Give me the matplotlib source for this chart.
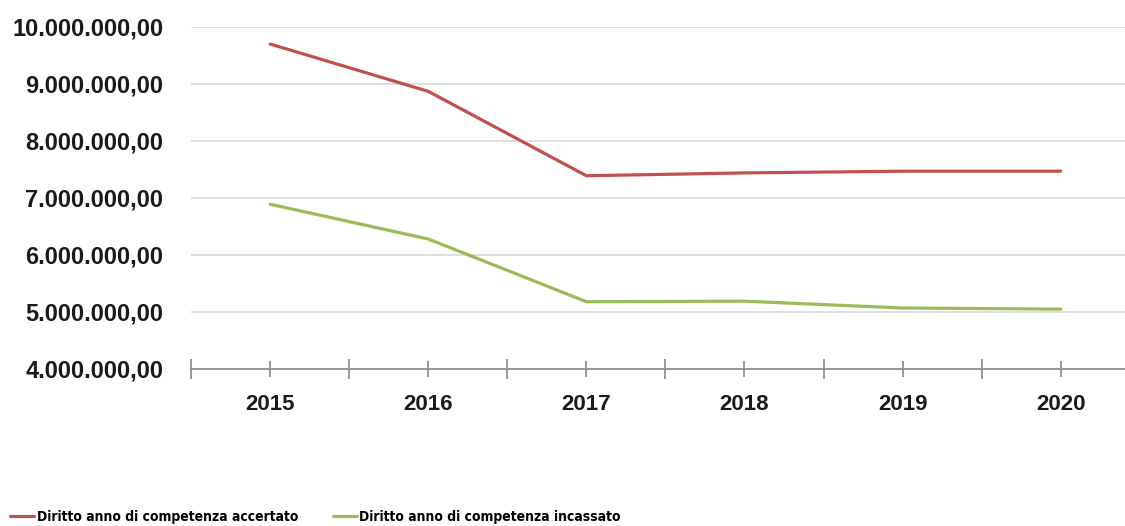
import matplotlib.pyplot as plt
from matplotlib import font_manager
from matplotlib.font_manager import FontProperties
from matplotlib.ticker import FuncFormatter, FixedLocator

years = ['2015', '2016', '2017', '2018', '2019', '2020']
accertato = [9700000, 8870000, 7390000, 7440000, 7470000, 7470000]
incassato = [6890000, 6280000, 5180000, 5190000, 5070000, 5050000]

RED = '#C0504D'
GREEN = '#9BBB59'
FONTS = ['Liberation Sans', 'DejaVu Sans']


def it_format(v, pos=None):
    s = f'{v:,.2f}'
    return s.replace(',', 'X').replace('.', ',').replace('X', '.')


def condensed_prop(size):
    # the legend text in the original is very narrow: look for a condensed face
    best, best_score = None, -1
    for f in font_manager.fontManager.ttflist:
        is_narrow = ('Narrow' in f.name or 'Condensed' in f.name
                     or 'ondensed' in f.fname or 'Narrow' in f.fname
                     or str(f.stretch) in ('condensed', 'semi-condensed',
                                           'extra-condensed'))
        if not is_narrow or f.style != 'normal':
            continue
        w = f.weight if isinstance(f.weight, int) else 400
        score = 2 if w >= 600 else 1
        if score > best_score:
            best, best_score = f, score
    if best is None:
        return FontProperties(family=FONTS, weight='bold', size=size - 2)
    return FontProperties(fname=best.fname, size=size)


fig = plt.figure(figsize=(11.25, 5.26), dpi=100)
ax = fig.add_axes([0.170, 0.2985, 0.843, 0.6502])

xs = [i + 0.5 for i in range(len(years))]
l1, = ax.plot(xs, accertato, color=RED, lw=2.3, solid_capstyle='round',
              label='Diritto anno di competenza accertato')
l2, = ax.plot(xs, incassato, color=GREEN, lw=2.3, solid_capstyle='round',
              label='Diritto anno di competenza incassato')

ax.set_xlim(0, len(years))
ax.set_ylim(4000000, 10000000)
ax.set_yticks(range(4000000, 10000001, 1000000))
ax.yaxis.set_major_formatter(FuncFormatter(it_format))
ax.grid(axis='y', color='#d9d9d9', lw=1.2)
ax.set_axisbelow(True)

ax.xaxis.set_major_locator(FixedLocator(range(len(years) + 1)))
ax.xaxis.set_minor_locator(FixedLocator(xs))
ax.set_xticklabels([''] * (len(years) + 1))
ax.set_xticklabels(years, minor=True)
ax.tick_params(axis='x', which='major', direction='inout', length=15,
               width=1.2, color='#878787')
ax.tick_params(axis='x', which='minor', direction='inout', length=12,
               width=1.2, color='#878787', pad=12)
ax.tick_params(axis='y', length=0, pad=20)

for lab in ax.get_xticklabels(minor=True):
    lab.set_family(FONTS)
    lab.set_fontweight('bold')
    lab.set_fontsize(16)
    lab.set_color('#1a1a1a')
for lab in ax.get_yticklabels():
    lab.set_family(FONTS)
    lab.set_fontweight('bold')
    lab.set_fontsize(17)
    lab.set_color('#1a1a1a')

for side in ['left', 'right', 'top']:
    ax.spines[side].set_visible(False)
ax.spines['bottom'].set_color('#878787')
ax.spines['bottom'].set_linewidth(1.2)

prop = condensed_prop(10)
leg1 = fig.legend(handles=[l1], loc='center left',
                  bbox_to_anchor=(-0.002, 0.017), frameon=False,
                  handlelength=1.7, handletextpad=0.2, prop=prop)
fig.canvas.draw()
right = leg1.get_window_extent().x1 / fig.bbox.width
fig.legend(handles=[l2], loc='center left',
           bbox_to_anchor=(max(0.233, right + 0.015), 0.017),
           frameon=False, handlelength=1.7, handletextpad=0.2, prop=prop)

fig.savefig('out.png', dpi=100)
